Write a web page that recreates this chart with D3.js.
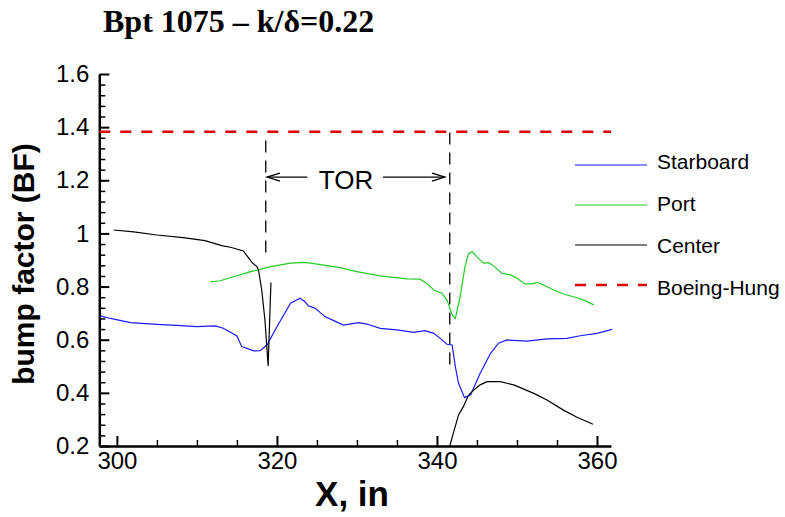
<!DOCTYPE html>
<html lang="en">
<head>
<meta charset="UTF-8">
<title>Bpt 1075 bump factor</title>
<style>
  body { margin: 0; background: #fff; }
  svg { display: block; }
  .tick text { font-family: "Liberation Sans", Arial, sans-serif; }
</style>
</head>
<body>
<div id="chart"></div>
<script src="https://d3js.org/d3.v7.min.js"></script>
<script>
  // series: [X in, bump factor]
  const starboard = [
    [297.9, 0.69], [299.2, 0.68], [301.7, 0.664], [305, 0.658], [307.5, 0.654],
    [310, 0.649], [312.3, 0.652], [313.3, 0.643], [315, 0.614], [315.6, 0.574],
    [317.1, 0.558], [317.9, 0.559], [318.75, 0.58], [320, 0.649], [321.7, 0.737],
    [322.9, 0.756], [323.5, 0.743], [323.95, 0.727], [324.8, 0.718], [326, 0.687],
    [327.1, 0.672], [328.3, 0.655], [330.2, 0.664], [331.25, 0.659], [332.9, 0.643],
    [335, 0.637], [337.1, 0.628], [338.5, 0.634], [339.6, 0.624], [340.4, 0.605],
    [341.25, 0.583], [341.9, 0.58], [342.3, 0.498], [342.7, 0.436], [343.45, 0.382],
    [344.2, 0.392], [345.4, 0.474], [346.7, 0.549], [347.7, 0.587], [348.75, 0.599],
    [351.25, 0.595], [353.75, 0.603], [356.25, 0.605], [357.9, 0.615], [360, 0.624],
    [361.9, 0.639]
  ];
  const port = [
    [311.7, 0.818], [312.9, 0.822], [314.6, 0.837], [316.7, 0.856], [319.2, 0.875],
    [321.7, 0.888], [323.3, 0.891], [324.2, 0.888], [327.9, 0.871], [330, 0.856],
    [332.9, 0.84], [336.25, 0.829], [337.9, 0.828], [338.75, 0.812], [339.6, 0.787],
    [340.6, 0.775], [341.25, 0.749], [341.9, 0.693], [342.3, 0.68], [342.9, 0.762],
    [343.5, 0.875], [343.95, 0.925], [344.4, 0.931], [345, 0.912], [345.8, 0.888],
    [346.45, 0.89], [347.1, 0.877], [348.1, 0.85], [349.2, 0.844], [350, 0.831],
    [351, 0.81], [351.9, 0.81], [352.5, 0.816], [353.3, 0.806], [354.6, 0.787],
    [355.8, 0.772], [357.5, 0.758], [358.5, 0.747], [359.6, 0.731]
  ];
  // null marks the break in the centre probe data
  const center = [
    [299.6, 1.013], [302.1, 1.006], [305, 0.994], [308.3, 0.984], [311, 0.973],
    [313.1, 0.954], [314.2, 0.948], [315.8, 0.934], [316.5, 0.906], [316.9, 0.89],
    [317.5, 0.875], [317.7, 0.862], [318.1, 0.787], [318.5, 0.674], [318.9, 0.501],
    [319.25, 0.815],
    null,
    [341.6, 0.2], [342.1, 0.254], [342.7, 0.317], [343.3, 0.348], [343.95, 0.392],
    [344.6, 0.411], [345.4, 0.43], [346.25, 0.442], [347.9, 0.442], [349.6, 0.43],
    [352.1, 0.398], [353.75, 0.373], [355.8, 0.335], [357.5, 0.308], [359.5, 0.282]
  ];
  const boeingHung = 1.383;

  // TOR bracket: x positions and vertical extents of the dashed markers
  const torX = [318.6, 341.6];
  const torTop = [1.35, 1.38];
  const torBottom = [0.91, 0.485];
  const torArrowY = 1.212;
  const torArrows = [[323.8, 318.75], [333.25, 341.0]];

  const xTicks = [300, 320, 340, 360];
  const xMinor = [305, 310, 315, 325, 330, 335, 345, 350, 355];
  const yTicks = [0.2, 0.4, 0.6, 0.8, 1.0, 1.2, 1.4, 1.6];
  const yMinor = d3.range(0.24, 1.6, 0.04).filter(v => Math.abs(v * 5 - Math.round(v * 5)) > 1e-6);

  const legendItems = [
    { name: "Starboard", color: "#1a1aff", dash: null, width: 1.2 },
    { name: "Port", color: "#22cc22", dash: null, width: 1.2 },
    { name: "Center", color: "#000", dash: null, width: 1.2 },
    { name: "Boeing-Hung", color: "#dd0000", dash: "11,10", width: 2.5 }
  ];

  const W = 785, H = 517;
  const svg = d3.select("#chart").append("svg")
    .attr("width", W)
    .attr("height", H);

  const x = d3.scaleLinear().domain([297.8, 361.75]).range([99.3, 611]);
  const y = d3.scaleLinear().domain([0.2, 1.6]).range([446, 74]);

  // title
  svg.append("text")
    .attr("x", 103)
    .attr("y", 32)
    .style("font-family", "'Liberation Serif', 'Times New Roman', serif")
    .style("font-weight", "bold")
    .style("font-size", "32px")
    .text("Bpt 1075 \u2013 k/\u03b4=0.22");

  // axes
  const yAxis = svg.append("g")
    .attr("transform", `translate(${x.range()[0]},0)`)
    .call(d3.axisLeft(y).tickValues(yTicks).tickSize(-10).tickSizeOuter(0).tickPadding(10)
      .tickFormat(d => d3.format("")(+d.toFixed(1))));
  yAxis.select(".domain").attr("stroke-width", 2.5);
  yAxis.selectAll(".tick line").attr("stroke-width", 2);
  yAxis.selectAll(".tick text").style("font-size", "24px").attr("fill", "#000");

  svg.append("g")
    .attr("transform", `translate(${x.range()[0]},0)`)
    .call(d3.axisLeft(y).tickValues(yMinor).tickSize(-6).tickFormat(""))
    .call(g => g.select(".domain").remove())
    .selectAll(".tick line").attr("stroke-width", 1.5);

  const xAxis = svg.append("g")
    .attr("transform", `translate(0,${y.range()[0]})`)
    .call(d3.axisBottom(x).tickValues(xTicks).tickSize(-10).tickSizeOuter(0).tickPadding(8));
  xAxis.select(".domain").attr("stroke-width", 2.5);
  xAxis.selectAll(".tick line").attr("stroke-width", 2);
  xAxis.selectAll(".tick text").style("font-size", "24px").attr("fill", "#000")
    .attr("dy", "0.71em").attr("y", 6);

  svg.append("g")
    .attr("transform", `translate(0,${y.range()[0]})`)
    .call(d3.axisBottom(x).tickValues(xMinor).tickSize(-6).tickFormat(""))
    .call(g => g.select(".domain").remove())
    .selectAll(".tick line").attr("stroke-width", 1.5);

  // axis titles
  svg.append("text")
    .attr("transform", "translate(34,264) rotate(-90)")
    .attr("text-anchor", "middle")
    .style("font-family", "'Liberation Sans', Arial, sans-serif")
    .style("font-weight", "bold")
    .style("font-size", "30px")
    .text("bump factor (BF)");

  svg.append("text")
    .attr("x", 352)
    .attr("y", 506)
    .attr("text-anchor", "middle")
    .style("font-family", "'Liberation Sans', Arial, sans-serif")
    .style("font-weight", "bold")
    .style("font-size", "35px")
    .text("X, in");

  // Boeing-Hung reference
  svg.append("line")
    .attr("x1", x.range()[0]).attr("x2", x.range()[1])
    .attr("y1", y(boeingHung)).attr("y2", y(boeingHung))
    .attr("stroke", "#dd0000")
    .attr("stroke-width", 2.5)
    .attr("stroke-dasharray", "11,10");

  // TOR markers
  svg.selectAll(".tor")
    .data(torX)
    .enter().append("line")
    .attr("class", "tor")
    .attr("x1", d => x(d)).attr("x2", d => x(d))
    .attr("y1", (d, i) => y(torTop[i]))
    .attr("y2", (d, i) => y(torBottom[i]))
    .attr("stroke", "#000")
    .attr("stroke-width", 1.3)
    .attr("stroke-dasharray", "12,8");

  torArrows.forEach(([from, to]) => {
    const x0 = x(from), x1 = x(to), yy = y(torArrowY);
    const dir = Math.sign(x1 - x0);
    svg.append("line")
      .attr("x1", x0).attr("x2", x1).attr("y1", yy).attr("y2", yy)
      .attr("stroke", "#000").attr("stroke-width", 1.2);
    svg.append("path")
      .attr("d", `M${x1 - dir * 13},${yy - 4}L${x1},${yy}L${x1 - dir * 13},${yy + 4}`)
      .attr("fill", "none").attr("stroke", "#000").attr("stroke-width", 1.2);
  });

  svg.append("text")
    .attr("x", 346)
    .attr("y", 189)
    .attr("text-anchor", "middle")
    .style("font-family", "'Liberation Sans', Arial, sans-serif")
    .style("font-size", "26px")
    .text("TOR");

  // data lines
  const line = d3.line()
    .defined(d => d !== null)
    .x(d => x(d[0]))
    .y(d => y(d[1]));

  svg.append("path").datum(port)
    .attr("d", line).attr("fill", "none")
    .attr("stroke", legendItems[1].color).attr("stroke-width", 1.2);
  svg.append("path").datum(starboard)
    .attr("d", line).attr("fill", "none")
    .attr("stroke", legendItems[0].color).attr("stroke-width", 1.2);
  svg.append("path").datum(center)
    .attr("d", line).attr("fill", "none")
    .attr("stroke", "#000").attr("stroke-width", 1.2);

  // legend
  const legend = svg.append("g");
  legendItems.forEach((d, i) => {
    const ly = 165 + i * 40;
    legend.append("line")
      .attr("x1", 575).attr("x2", 647)
      .attr("y1", ly).attr("y2", ly)
      .attr("stroke", d.color)
      .attr("stroke-width", d.width)
      .attr("stroke-dasharray", d.dash);
    legend.append("text")
      .attr("x", 657)
      .attr("y", 168.5 + i * 42)
      .style("font-family", "'Liberation Sans', Arial, sans-serif")
      .style("font-size", "21px")
      .text(d.name);
  });
</script>
</body>
</html>
